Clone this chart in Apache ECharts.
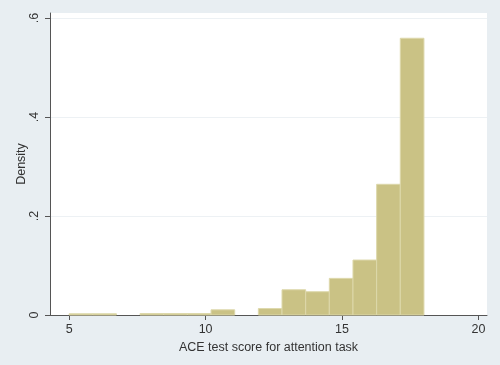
<!DOCTYPE html>
<html>
<head>
<meta charset="utf-8">
<script src="https://cdn.jsdelivr.net/npm/echarts@6/dist/echarts.min.js"></script>
<style>
html,body{margin:0;padding:0;background:#e8eef2;}
#chart{width:500px;height:365px;}
</style>
</head>
<body>
<div id="chart"></div>
<script>
// Histogram bins (lower / upper edges) and densities
var binLower = [5.000, 5.867, 6.733, 7.600, 8.467, 9.333, 10.200, 11.067, 11.933, 12.800, 13.667, 14.533, 15.400, 16.267, 17.133];
var binUpper = [5.867, 6.733, 7.600, 8.467, 9.333, 10.200, 11.067, 11.933, 12.800, 13.667, 14.533, 15.400, 16.267, 17.133, 18.000];
var density  = [0.0025, 0.0025, 0, 0.003, 0.003, 0.003, 0.0105, 0, 0.013, 0.051, 0.047, 0.074, 0.111, 0.264, 0.559];
var xTicks = [5, 10, 15, 20];
var yTicks = [0, 0.2, 0.4, 0.6];
var xTitle = 'ACE test score for attention task';
var yTitle = 'Density';

var data = [];
for (var i = 0; i < density.length; i++) {
  if (density[i] > 0) data.push([binLower[i], binUpper[i], density[i]]);
}

var chart = echarts.init(document.getElementById('chart'), null, {renderer: 'canvas'});
var font = 'Liberation Sans, Arial, sans-serif';
chart.setOption({
  backgroundColor: '#e8eef2',
  animation: false,
  grid: {left: 50, right: 13, top: 13, bottom: 50, show: true, backgroundColor: '#ffffff', borderWidth: 0},
  xAxis: {
    type: 'value', min: 4.3, max: 20.31,
    name: xTitle, nameLocation: 'middle', nameGap: 23,
    nameTextStyle: {color: '#333', fontFamily: font, fontSize: 12.5},
    axisLine: {show: true, onZero: false, lineStyle: {color: '#555', width: 1}},
    axisTick: {show: true, length: 5, customValues: xTicks, lineStyle: {color: '#555'}},
    axisLabel: {customValues: xTicks, color: '#333', fontFamily: font, fontSize: 12.5, margin: 8},
    splitLine: {show: false}
  },
  yAxis: {
    type: 'value', min: 0, max: 0.61, interval: 0.2,
    name: yTitle, nameLocation: 'middle', nameGap: 22, nameRotate: 90, nameMoveOverlap: false,
    nameTextStyle: {color: '#333', fontFamily: font, fontSize: 12.5},
    axisLine: {show: true, lineStyle: {color: '#555', width: 1}},
    axisTick: {show: true, length: 5, customValues: yTicks, lineStyle: {color: '#555'}},
    axisLabel: {
      customValues: yTicks, rotate: 90, color: '#333', fontFamily: font, fontSize: 12.5, margin: 9,
      formatter: function (v) { return v === 0 ? '0' : String(v).replace(/^0/, ''); }
    },
    splitLine: {show: true, lineStyle: {color: '#edf1f4', width: 1}}
  },
  series: [{
    type: 'custom',
    data: data,
    encode: {x: [0, 1], y: 2},
    renderItem: function (params, api) {
      var p0 = api.coord([api.value(0), api.value(2)]);
      var p1 = api.coord([api.value(1), 0]);
      return {
        type: 'rect',
        shape: {x: p0[0], y: p0[1], width: p1[0] - p0[0], height: p1[1] - p0[1]},
        style: {fill: '#cac285', stroke: '#ddd8ab', lineWidth: 1}
      };
    }
  }]
});
</script>
</body>
</html>
